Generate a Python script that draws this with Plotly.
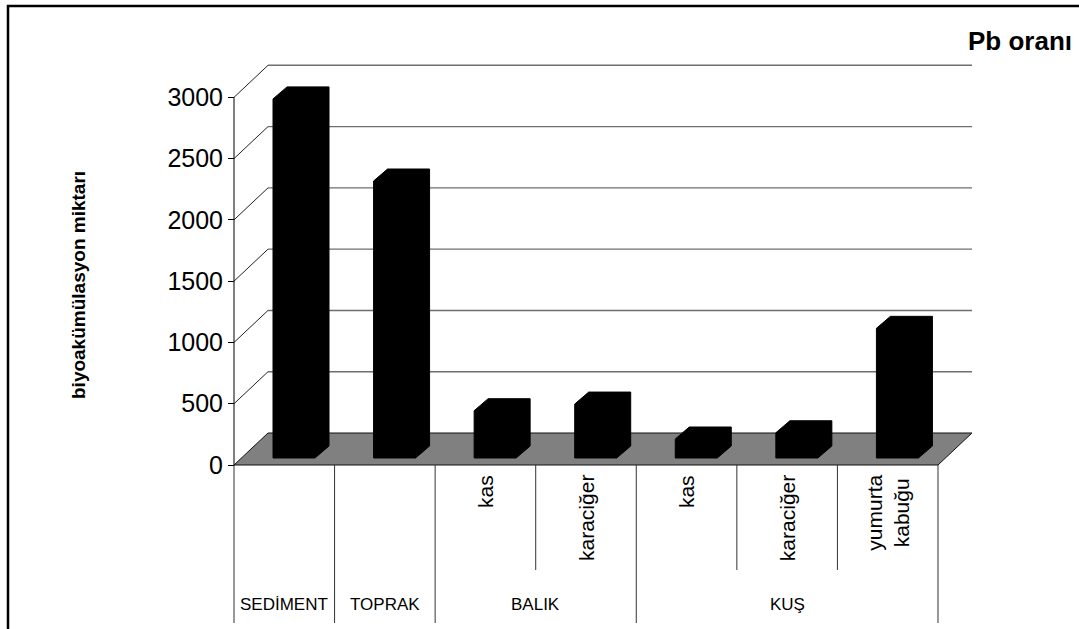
import plotly.graph_objects as go

# ---- data -------------------------------------------------------------
categories = ["SEDİMENT", "TOPRAK", "BALIK kas", "BALIK karaciğer",
              "KUŞ kas", "KUŞ karaciğer", "KUŞ yumurta kabuğu"]
sub_labels = ["", "", "kas", "karaciğer", "kas", "karaciğer", "yumurta<br>kabuğu"]
groups = ["SEDİMENT", "TOPRAK", "BALIK", "KUŞ"]
group_spans = [(0, 1), (1, 2), (2, 4), (4, 7)]
values = [2930, 2260, 386, 440, 155, 206, 1058]
y_ticks = [0, 500, 1000, 1500, 2000, 2500, 3000]
title_text = "Pb oranı"
y_title = "biyoakümülasyon miktarı"

# ---- layout geometry (figure pixels -> axis units) --------------------
W, H = 1079, 629
X0_PX, CAT_PX = 234, 100.57        # front category axis origin, px per category
Y0_PX, PX_PER_UNIT = 465, 0.12256  # value zero line, px per value unit
n = len(values)

def ux(px):      # horizontal pixel distance -> category units
    return px / CAT_PX

def uy(px):      # vertical pixel distance -> value units
    return px / PX_PER_UNIT

x_range = [-ux(X0_PX), ux(W - X0_PX)]
y_range = [-uy(H - Y0_PX), uy(Y0_PX)]

DEPTH_X, DEPTH_Y = ux(34), uy(32)      # oblique depth of floor / walls
BAR_LEFT, BAR_W = ux(39), ux(42)       # bar front face inside its category
BAR_LIFT = uy(7)                       # bar sits slightly back on the floor
BAR_DX, BAR_DY = ux(14), uy(12)        # bar thickness in depth

FONT = "Liberation Sans, Arial"

fig = go.Figure()

# back wall gridlines + side wall diagonals
hx, hy, dxs, dys = [], [], [], []
top = max(y_ticks)
for v in y_ticks[1:]:
    dxs += [0, DEPTH_X, None]
    dys += [v, v + DEPTH_Y, None]
    hx += [DEPTH_X, n + DEPTH_X, None]
    hy += [v + DEPTH_Y, v + DEPTH_Y, None]
fig.add_trace(go.Scatter(x=hx, y=hy, mode="lines",
                         line=dict(color="#6e6e6e", width=1.4), hoverinfo="skip"))
fig.add_trace(go.Scatter(x=dxs, y=dys, mode="lines",
                         line=dict(color="#222222", width=1), hoverinfo="skip"))

# floor
fig.add_trace(go.Scatter(x=[0, n, n + DEPTH_X, DEPTH_X, 0],
                         y=[0, 0, DEPTH_Y, DEPTH_Y, 0],
                         mode="lines", fill="toself", fillcolor="#808080",
                         line=dict(color="#111111", width=1), hoverinfo="skip"))

# bars as oblique prisms
for i, v in enumerate(values):
    xl = i + BAR_LEFT
    xr = xl + BAR_W
    b = BAR_LIFT
    px_ = [xl, xl, xl + BAR_DX, xr + BAR_DX, xr + BAR_DX, xr, xl]
    py_ = [b, b + v, b + v + BAR_DY, b + v + BAR_DY, b + BAR_DY, b, b]
    fig.add_trace(go.Scatter(x=px_, y=py_, mode="lines", fill="toself",
                             fillcolor="black", line=dict(color="black", width=1),
                             name=categories[i], hovertemplate="%{text}<extra></extra>",
                             text=[f"{categories[i]}: {v}"] * len(px_)))

# front value axis line
fig.add_trace(go.Scatter(x=[0, 0], y=[0, top], mode="lines",
                         line=dict(color="black", width=1), hoverinfo="skip"))

# category table lines below the floor
group_bottom = -uy(623 - Y0_PX)
sub_bottom = -uy(570 - Y0_PX)
group_edges = sorted({e for s in group_spans for e in s})
sx, sy = [], []
for k in range(n + 1):
    sx += [k, k, None]
    sy += [0, group_bottom if k in group_edges else sub_bottom, None]
fig.add_trace(go.Scatter(x=sx, y=sy, mode="lines",
                         line=dict(color="#333333", width=1), hoverinfo="skip"))

annotations = []
for i, lab in enumerate(sub_labels):
    if lab:
        annotations.append(dict(x=i + 0.5, y=-uy(473 - Y0_PX), xref="x", yref="y",
                                text=lab, textangle=-90, showarrow=False,
                                xanchor="center", yanchor="top", align="center",
                                font=dict(family=FONT, size=21, color="black")))
for g, (a, b) in zip(groups, group_spans):
    annotations.append(dict(x=(a + b) / 2, y=-uy(604 - Y0_PX), xref="x", yref="y",
                            text=g, showarrow=False, xanchor="center", yanchor="middle",
                            font=dict(family=FONT, size=17, color="black")))
annotations.append(dict(x=78 / W, y=1 - 285 / H, xref="paper", yref="paper",
                        text=f"<b>{y_title}</b>", textangle=-90, showarrow=False,
                        xanchor="center", yanchor="middle",
                        font=dict(family=FONT, size=19, color="black")))
annotations.append(dict(x=966 / W, y=1 - 41 / H, xref="paper", yref="paper",
                        text=f"<b>{title_text}</b>", showarrow=False,
                        xanchor="left", yanchor="middle",
                        font=dict(family=FONT, size=26, color="black")))

fig.update_layout(
    width=W, height=H,
    margin=dict(l=0, r=0, t=0, b=0),
    paper_bgcolor="white", plot_bgcolor="white",
    showlegend=False,
    xaxis=dict(range=x_range, domain=[0, 1], visible=False, fixedrange=True),
    yaxis=dict(range=y_range, domain=[0, 1], anchor="free", position=X0_PX / W,
               tickvals=y_ticks, ticktext=[str(t) for t in y_ticks],
               ticks="outside", ticklen=6, tickwidth=1, tickcolor="black",
               showgrid=False, zeroline=False, showline=False, fixedrange=True,
               tickfont=dict(family=FONT, size=25, color="black")),
    annotations=annotations,
    shapes=[dict(type="rect", xref="paper", yref="paper",
                 x0=8 / W, x1=1.02, y0=-0.02, y1=1 - 6 / H,
                 line=dict(color="black", width=2.5), layer="above")],
)

fig.write_html("out.html")
